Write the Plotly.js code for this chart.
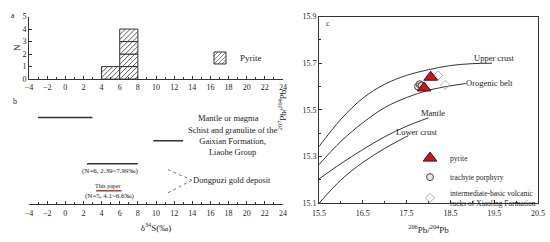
<!DOCTYPE html>
<html><head><meta charset="utf-8">
<script src="https://cdn.plot.ly/plotly-3.0.1.min.js"></script>
<style>html,body{margin:0;padding:0;background:#fff}#chart{width:550px;height:242px}</style>
</head><body><div id="chart"></div>
<script>
// ---- Panel a: histogram of pyrite δ34S ----
const binStarts = [4, 6];
const binCounts = [1, 4];
const binWidth = 2;

// ---- Panel b: δ34S ranges ----
const rangeLabels = ['Mantle or magma', 'Schist and granulite (Gaixian Fm., Liaohe Group)', 'Dongpuzi gold deposit (N=6)', 'This paper'];
const rangeMin = [-3, 9.7, 2.39, 3.4];
const rangeMax = [3, 13, 7.99, 6.2];
const rangeRow = [3.75, 2.75, 1.75, 0.58];
const rangeColor = ['#333', '#333', '#333', '#c0392b'];

// ---- Panel c: Pb isotopes ----
const pyriteX = [18.05, 17.90];
const pyriteY = [15.64, 15.594];
const trachyteX = [17.76, 17.80, 17.84];
const trachyteY = [15.600, 15.610, 15.604];
const volcanicX = [18.22, 18.38];
const volcanicY = [15.648, 15.607];

const upperCrustX = [15.5, 16.0, 16.5, 17.0, 17.5, 18.0, 18.5, 19.0, 19.45];
const upperCrustY = [15.343, 15.46, 15.55, 15.61, 15.648, 15.672, 15.69, 15.698, 15.70];
const orogenX = [15.5, 16.0, 16.5, 17.0, 17.5, 18.0, 18.5, 18.85];
const orogenY = [15.266, 15.365, 15.445, 15.51, 15.553, 15.584, 15.603, 15.613];
const mantleX = [15.5, 16.0, 16.5, 17.0, 17.5, 18.0];
const mantleY = [15.204, 15.27, 15.33, 15.385, 15.43, 15.466];
const lowerCrustX = [15.5, 16.0, 16.5, 17.0, 17.54];
const lowerCrustY = [15.1, 15.2, 15.275, 15.335, 15.39];

const SERIF = 'Liberation Serif, Times New Roman, serif';
const TXT = '#222';
const traces = [];

// histogram blocks (each unit count drawn as a stacked box)
const bx = [], by = [], bb = [];
binStarts.forEach((s, i) => {
  for (let k = 0; k < binCounts[i]; k++) { bx.push(s + binWidth / 2); by.push(1); bb.push(k); }
});
traces.push({
  type: 'bar', x: bx, y: by, base: bb, width: binWidth, xaxis: 'x', yaxis: 'y',
  name: 'Pyrite', legend: 'legend', showlegend: true,
  marker: { color: 'white', line: { color: '#333', width: 1 },
    pattern: { shape: '/', fgcolor: '#444', bgcolor: 'white', size: 3.5, solidity: 0.25 } },
  hoverinfo: 'skip'
});

// ranges panel b
rangeLabels.forEach((n, i) => {
  traces.push({
    type: 'scatter', mode: 'lines', x: [rangeMin[i], rangeMax[i]], y: [rangeRow[i], rangeRow[i]],
    xaxis: 'x2', yaxis: 'y2', showlegend: false, name: n,
    line: { color: rangeColor[i], width: 1.5 }
  });
});

// curves panel c
[[upperCrustX, upperCrustY], [orogenX, orogenY], [mantleX, mantleY], [lowerCrustX, lowerCrustY]].forEach(c => {
  traces.push({ type: 'scatter', mode: 'lines', x: c[0], y: c[1], xaxis: 'x3', yaxis: 'y3',
    showlegend: false, line: { color: '#333', width: 1, shape: 'spline' } });
});

traces.push({ type: 'scatter', mode: 'markers', x: volcanicX, y: volcanicY, xaxis: 'x3', yaxis: 'y3',
  name: 'intermediate-basic volcanic<br>rocks of Xiaoling Formation', legend: 'legend2',
  marker: { symbol: 'diamond-open', size: 7, color: '#aaa', line: { width: 1 } } });
traces.push({ type: 'scatter', mode: 'markers', x: trachyteX, y: trachyteY, xaxis: 'x3', yaxis: 'y3',
  name: 'trachyte porphyry', legend: 'legend2',
  marker: { symbol: 'circle', size: 7, color: 'rgba(215,215,215,0.6)', line: { color: '#444', width: 1 } } });
traces.push({ type: 'scatter', mode: 'markers', x: pyriteX, y: pyriteY, xaxis: 'x3', yaxis: 'y3',
  name: 'pyrite', legend: 'legend2',
  marker: { symbol: 'triangle-up', size: 12, color: '#c8161d', line: { color: '#5a0a0a', width: 1 } } });

const W = 550, H = 242;
const px = v => v / W, py = v => 1 - v / H;

const axBase = {
  showgrid: false, zeroline: false, showline: true, linecolor: '#333', linewidth: 1,
  ticks: 'inside', ticklen: 3, tickcolor: '#333', tickfont: { family: SERIF, size: 8, color: TXT }
};

const layout = {
  width: W, height: H, margin: { l: 0, r: 0, t: 0, b: 0 },
  paper_bgcolor: 'white', plot_bgcolor: 'rgba(0,0,0,0)',
  font: { family: SERIF, color: TXT },
  barmode: 'overlay',
  xaxis: Object.assign({}, axBase, { domain: [px(29), px(283)], range: [-4, 24], anchor: 'y',
    tick0: -4, dtick: 2, minor: { dtick: 1, ticks: 'inside', ticklen: 2, tickcolor: '#333' } }),
  yaxis: Object.assign({}, axBase, { domain: [py(78), py(13)], range: [0, 5], dtick: 1, anchor: 'x',
    title: { text: 'N', font: { family: SERIF, size: 9, color: TXT }, standoff: 0 } }),
  xaxis2: Object.assign({}, axBase, { domain: [px(29), px(283)], range: [-4, 24], anchor: 'y2',
    tick0: -4, dtick: 2, minor: { dtick: 1, ticks: 'inside', ticklen: 2, tickcolor: '#333' },
    ticklabelstandoff: 1,
    title: { text: 'δ<sup>34</sup>S(‰)', font: { family: SERIF, size: 9, color: TXT }, standoff: 7 } }),
  yaxis2: { domain: [py(208), py(100)], range: [0, 4.5], visible: false, anchor: 'x2' },
  xaxis3: Object.assign({}, axBase, { domain: [px(319), px(538)], range: [15.5, 20.5], anchor: 'y3',
    tick0: 15.5, dtick: 1, mirror: true, tickformat: '.1f', ticklabelstandoff: 2,
    minor: { dtick: 0.5, ticks: 'inside', ticklen: 2, tickcolor: '#333' },
    title: { text: '<sup>206</sup>Pb/<sup>204</sup>Pb', font: { family: SERIF, size: 9, color: TXT }, standoff: 9 } }),
  yaxis3: Object.assign({}, axBase, { domain: [py(207), py(13)], range: [15.1, 15.9], anchor: 'x3',
    tick0: 15.1, dtick: 0.2, mirror: true, tickformat: '.1f', automargin: true,
    minor: { dtick: 0.1, ticks: 'inside', ticklen: 2, tickcolor: '#333' },
    title: { text: '<sup>207</sup>Pb/<sup>204</sup>Pb', font: { family: SERIF, size: 9, color: TXT }, standoff: 14 } }),
  legend: { x: px(200), y: py(41), xanchor: 'left', yanchor: 'top', bgcolor: 'rgba(0,0,0,0)',
    font: { family: SERIF, size: 9, color: TXT } },
  legend2: { x: px(410), y: py(145), xanchor: 'left', yanchor: 'top', bgcolor: 'rgba(0,0,0,0)',
    font: { family: SERIF, size: 7.5, color: TXT }, traceorder: 'reversed', tracegroupgap: 0 },
  annotations: [],
  shapes: []
};

function ann(text, x, y, size, opts) {
  layout.annotations.push(Object.assign({ text: text, x: px(x), y: py(y), xref: 'paper', yref: 'paper',
    showarrow: false, xanchor: 'center', yanchor: 'middle',
    font: { family: SERIF, size: size, color: TXT } }, opts || {}));
}
ann('a', 13, 12, 8);
ann('b', 15, 101, 8);
ann('c', 328, 20, 8);
ann('Mantle or magma', 228, 118, 8.5);
ann('Schist and granulite of the<br>Gaixian Formation,<br>Liaohe Group', 232, 142, 8.5);
ann('(N=6, 2.39~7.99‰)', 110, 173, 7);
ann('This paper', 108, 189, 6);
ann('(N=5, 4.1~6.6‰)', 110, 199, 7);
ann('Dongpuzi gold deposit', 232, 183, 8.5);
ann('Upper crust', 494, 56, 8.5);
ann('Orogenic belt', 489, 82, 8.5);
ann('Mantle', 433, 113, 8.5);
ann('Lower crust', 416, 133, 8.5);

layout.shapes.push({ type: 'line', xref: 'paper', yref: 'paper', x0: px(168), y0: py(172), x1: px(192), y1: py(183),
  line: { color: '#777', width: 1, dash: 'dot' } });
layout.shapes.push({ type: 'line', xref: 'paper', yref: 'paper', x0: px(168), y0: py(196), x1: px(192), y1: py(183),
  line: { color: '#777', width: 1, dash: 'dot' } });

Plotly.newPlot('chart', traces, layout, { staticPlot: true, displayModeBar: false });
</script></body></html>
